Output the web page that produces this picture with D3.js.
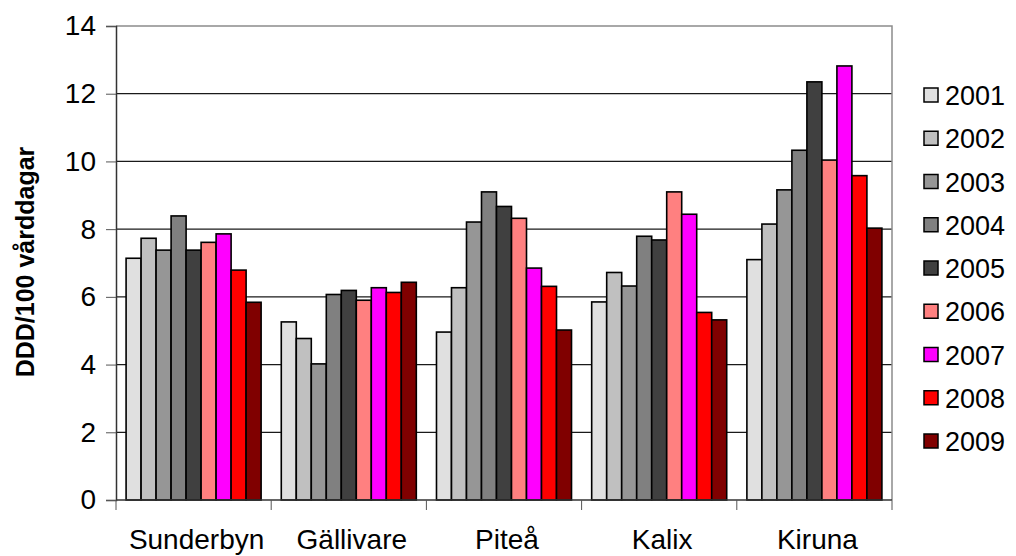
<!DOCTYPE html>
<html>
<head>
<meta charset="utf-8">
<script src="https://cdn.jsdelivr.net/npm/d3@7"></script>
<style>
  html, body { margin: 0; padding: 0; background: #fff; }
  svg { display: block; }
  text { font-family: "Liberation Sans", Arial, sans-serif; fill: #000; }
</style>
</head>
<body>
<svg id="chart" width="1016" height="556"></svg>
<script>
const categories = ["Sunderbyn", "Gällivare", "Piteå", "Kalix", "Kiruna"];
const years = ["2001", "2002", "2003", "2004", "2005", "2006", "2007", "2008", "2009"];
const colors = ["#E0E0E0", "#C0C0C0", "#969696", "#808080", "#404040", "#FF8080", "#FF00FF", "#FF0000", "#800000"];
// values per year, in category order
const v2001 = [7.14, 5.26, 4.96, 5.85, 7.10];
const v2002 = [7.73, 4.77, 6.27, 6.72, 8.15];
const v2003 = [7.38, 4.02, 8.21, 6.32, 9.16];
const v2004 = [8.39, 6.07, 9.10, 7.79, 10.33];
const v2005 = [7.38, 6.19, 8.67, 7.68, 12.35];
const v2006 = [7.61, 5.90, 8.32, 9.10, 10.04];
const v2007 = [7.86, 6.27, 6.85, 8.44, 12.82];
const v2008 = [6.79, 6.13, 6.31, 5.54, 9.58];
const v2009 = [5.84, 6.43, 5.02, 5.32, 8.03];
const yTicks = [0, 2, 4, 6, 8, 10, 12, 14];
const yTitle = "DDD/100 vårddagar";

const series = [v2001, v2002, v2003, v2004, v2005, v2006, v2007, v2008, v2009];

(function () {
const svg = d3.select("#chart");
const pLeft = 116, pRight = 892, pTop = 26, pBottom = 500;

const x0 = d3.scaleBand().domain(categories).range([pLeft, pRight]).padding(0);
const bw = x0.bandwidth();
const x1 = d3.scaleBand().domain(years).range([bw * 0.065, bw * 0.935]).padding(0);
const y = d3.scaleLinear().domain([0, 14]).range([pBottom, pTop]);

// gridlines
svg.append("g").selectAll("line")
  .data(yTicks.filter(t => t > 0 && t < 14))
  .join("line")
  .attr("x1", pLeft).attr("x2", pRight)
  .attr("y1", d => y(d)).attr("y2", d => y(d))
  .attr("stroke", "#1a1a1a").attr("stroke-width", 1.2);

// plot border (top, right)
svg.append("path")
  .attr("d", `M${pLeft},${y(14)}H${pRight}V${pBottom}`)
  .attr("fill", "none").attr("stroke", "#8c8c8c").attr("stroke-width", 1.5);

// bars
const gBars = svg.append("g");
categories.forEach((c, ci) => {
  series.forEach((s, si) => {
    gBars.append("rect")
      .attr("x", x0(c) + x1(years[si]))
      .attr("y", y(s[ci]))
      .attr("width", x1.bandwidth())
      .attr("height", y(0) - y(s[ci]))
      .attr("fill", colors[si])
      .attr("stroke", "#000")
      .attr("stroke-width", 1.6);
  });
});

// y axis
const yAxis = d3.axisLeft(y).tickValues(yTicks).tickSize(10).tickPadding(10).tickFormat(d3.format("d"));
const gy = svg.append("g").attr("transform", `translate(${pLeft},0)`).call(yAxis);
gy.select(".domain").attr("stroke", "#333").attr("stroke-width", 1.5);
gy.selectAll(".tick line").attr("stroke", "#555").attr("stroke-width", 1);
gy.selectAll(".tick text").style("font-size", "28px").style("font-family", "Liberation Sans, Arial, sans-serif").attr("fill", "#000");

// x axis with ticks on category boundaries
const boundaries = categories.map(c => x0(c)).concat([pRight]);
svg.append("line").attr("x1", pLeft).attr("x2", pRight).attr("y1", pBottom).attr("y2", pBottom)
  .attr("stroke", "#333").attr("stroke-width", 1.5);
svg.append("g").selectAll("line").data(boundaries).join("line")
  .attr("x1", d => d).attr("x2", d => d).attr("y1", pBottom).attr("y2", pBottom + 10)
  .attr("stroke", "#555").attr("stroke-width", 1);
svg.append("g").selectAll("text").data(categories).join("text")
  .attr("x", d => x0(d) + bw / 2 + 3)
  .attr("y", 549)
  .attr("text-anchor", "middle")
  .style("font-size", "28px")
  .text(d => d);

// y title
svg.append("text")
  .attr("transform", `translate(34,262) rotate(-90)`)
  .attr("text-anchor", "middle")
  .style("font-size", "25px").style("font-weight", "bold")
  .text(yTitle);

// legend
const leg = svg.append("g");
years.forEach((yr, i) => {
  const cy = 95 + i * 43.25;
  leg.append("rect").attr("x", 924).attr("y", cy - 7).attr("width", 14).attr("height", 14)
    .attr("fill", colors[i]).attr("stroke", "#000").attr("stroke-width", 1.5);
  leg.append("text").attr("x", 945).attr("y", cy + 10).style("font-size", "27px").text(yr);
});
})();
</script>
</body>
</html>
